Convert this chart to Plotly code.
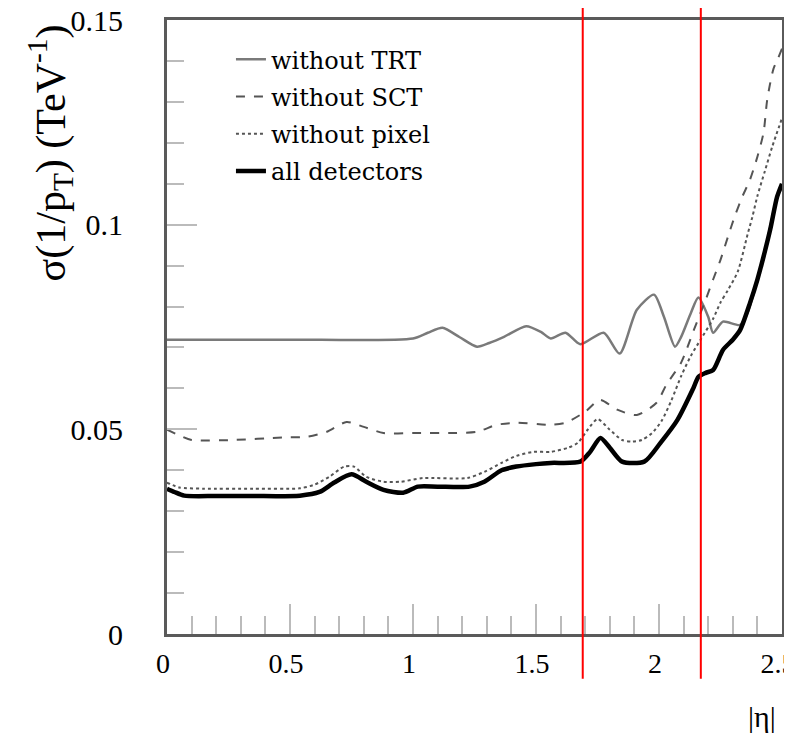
import plotly.graph_objects as go

# ---- data ----
eta_trt = [0, 0.5, 1.0, 1.06, 1.12, 1.19, 1.26, 1.31, 1.37, 1.46, 1.52, 1.56, 1.62, 1.68,
           1.775, 1.84, 1.91, 1.98, 2.02, 2.065, 2.09, 2.13, 2.16, 2.2, 2.22, 2.26, 2.33,
           2.36, 2.4, 2.43, 2.45, 2.48, 2.5]
sig_trt = [0.0719, 0.0719, 0.0722, 0.0736, 0.0748, 0.0725, 0.0702, 0.0711, 0.0726, 0.0752,
           0.0738, 0.0722, 0.0736, 0.0708, 0.0736, 0.0685, 0.0792, 0.0829, 0.0775, 0.0702,
           0.0726, 0.0785, 0.0822, 0.0775, 0.0736, 0.0763, 0.0755, 0.0785, 0.0866, 0.0930,
           0.0988, 0.1068, 0.1090]

eta_sct = [0, 0.05, 0.1, 0.27, 0.47, 0.57, 0.65, 0.73, 0.8, 0.88, 1.0, 1.15, 1.26, 1.34,
           1.42, 1.56, 1.62, 1.70, 1.76, 1.83, 1.91, 1.99, 2.03, 2.09, 2.14, 2.19, 2.22,
           2.25, 2.28, 2.31, 2.34, 2.37, 2.4, 2.425, 2.44, 2.465, 2.485, 2.5]
sig_sct = [0.0499, 0.0485, 0.0474, 0.0474, 0.0480, 0.0482, 0.0494, 0.0518, 0.0506, 0.0491,
           0.0491, 0.0491, 0.0494, 0.0511, 0.0516, 0.0511, 0.0516, 0.0543, 0.0572, 0.0548,
           0.0535, 0.0565, 0.0609, 0.0663, 0.0740, 0.0817, 0.0866, 0.0914, 0.0970, 0.1024,
           0.1070, 0.1110, 0.1166, 0.1225, 0.1306, 0.1380, 0.1408, 0.1430]

eta_pix = [0, 0.05, 0.15, 0.35, 0.54, 0.6, 0.66, 0.72, 0.76, 0.81, 0.88, 0.95, 1.04, 1.22,
           1.29, 1.36, 1.42, 1.49, 1.56, 1.63, 1.67, 1.71, 1.75, 1.8, 1.85, 1.89, 1.93, 1.97,
           2.01, 2.05, 2.09, 2.13, 2.17, 2.22, 2.25, 2.28, 2.32, 2.36, 2.38, 2.40, 2.43,
           2.46, 2.5]
sig_pix = [0.0370, 0.0358, 0.0355, 0.0355, 0.0356, 0.0365, 0.0384, 0.0409, 0.0409, 0.0384,
           0.0372, 0.0372, 0.0381, 0.0381, 0.0396, 0.0418, 0.0435, 0.0445, 0.0445, 0.0455,
           0.0467, 0.0499, 0.0525, 0.0499, 0.0474, 0.0470, 0.0474, 0.0490, 0.0520, 0.0570,
           0.0630, 0.0680, 0.0720, 0.0770, 0.0810, 0.0840, 0.0885, 0.0976, 0.1020, 0.1070,
           0.1130, 0.1190, 0.1260]

eta_all = [0, 0.03, 0.07, 0.2, 0.35, 0.54, 0.62, 0.68, 0.75, 0.81, 0.88, 0.96, 1.02, 1.1,
           1.23, 1.29, 1.36, 1.42, 1.5, 1.56, 1.68, 1.72, 1.762, 1.8, 1.85, 1.94, 2.006,
           2.075, 2.14, 2.16, 2.19, 2.22, 2.26, 2.3, 2.33, 2.37, 2.4, 2.425, 2.452, 2.48, 2.5]
sig_all = [0.0355, 0.0347, 0.0338, 0.0337, 0.0337, 0.0338, 0.0347, 0.0370, 0.0390, 0.0372,
           0.0352, 0.0345, 0.0360, 0.0360, 0.0360, 0.0372, 0.0400, 0.0409, 0.0415, 0.0418,
           0.0421, 0.0445, 0.0479, 0.0455, 0.0421, 0.0421, 0.0467, 0.0523, 0.0601, 0.0628,
           0.0638, 0.0645, 0.0694, 0.0719, 0.0743, 0.0809, 0.0866, 0.0922, 0.0988, 0.1068,
           0.1100]

eta_boundaries = [1.69, 2.17]

series_names = ["without TRT", "without SCT", "without pixel", "all detectors"]

serif = "Liberation Serif"

fig = go.Figure()
styles = [
    dict(color="#7a7a7a", width=2.5, dash="solid"),
    dict(color="#555555", width=2, dash="dash"),
    dict(color="#555555", width=2, dash="dot"),
    dict(color="#000000", width=4.5, dash="solid"),
]
data = [(eta_trt, sig_trt), (eta_sct, sig_sct), (eta_pix, sig_pix), (eta_all, sig_all)]
for i, ((xs, ys), name, st) in enumerate(zip(data, series_names, styles)):
    fig.add_trace(go.Scatter(
        x=xs, y=ys, mode="lines", name=name, legendgroup=f"g{i}",
        line=dict(color=st["color"], width=st["width"], dash=st["dash"],
                  shape="spline", smoothing=0.7),
    ))

for xb in eta_boundaries:
    fig.add_shape(type="line", xref="x", yref="paper", x0=xb, x1=xb,
                  y0=-0.073, y1=1.03, line=dict(color="red", width=2), layer="above")

fig.add_annotation(
    text="σ(1/p<sub>T</sub>) (TeV<sup>-1</sup>)", textangle=-90,
    xref="paper", yref="paper", x=-0.19, y=0.783, xanchor="center", yanchor="middle",
    showarrow=False, font=dict(family=serif, size=42, color="black"),
)
fig.add_annotation(
    text="|η|", xref="paper", yref="paper", x=0.967, y=-0.135,
    xanchor="center", yanchor="middle", showarrow=False,
    font=dict(family=serif, size=30, color="black"),
)

axis_common = dict(
    showline=True, linecolor="#5a5a5a", linewidth=3, mirror=True,
    ticks="inside", tickcolor="#bbbbbb", tickwidth=2, automargin=False,
    showgrid=False, zeroline=False, ticklabeloverflow="allow",
)
fig.update_xaxes(range=[0, 2.5], dtick=0.5, tick0=0, ticklen=30, ticklabelstandoff=2,
                 ticklabelshift=-4,
                 tickfont=dict(family=serif, size=28, color="black"),
                 minor=dict(ticks="inside", dtick=0.1, ticklen=18, tickcolor="#bbbbbb",
                            tickwidth=2, showgrid=False),
                 **axis_common)
fig.update_yaxes(range=[0, 0.15], dtick=0.05, tick0=0, ticklen=30, ticklabelstandoff=35,
                 tickfont=dict(family=serif, size=30, color="black"),
                 minor=dict(ticks="inside", dtick=0.01, ticklen=17, tickcolor="#bbbbbb",
                            tickwidth=2, showgrid=False),
                 **axis_common)

fig.update_layout(
    width=784, height=729,
    margin=dict(l=159, r=10, t=12, b=103, autoexpand=False),
    paper_bgcolor="white", plot_bgcolor="white",
    showlegend=True,
    legend=dict(x=0.104, y=0.972, xanchor="left", yanchor="top",
                bgcolor="rgba(0,0,0,0)", borderwidth=0, tracegroupgap=3,
                font=dict(family="DejaVu Serif", size=24, color="black")),
)

fig.write_html("out.html")
